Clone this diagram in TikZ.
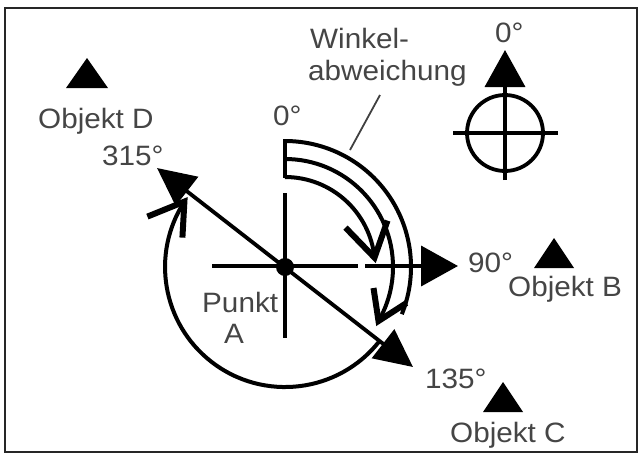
\documentclass[tikz,border=0pt]{standalone}
\usepackage{fontspec}
\setmainfont{Liberation Sans}[FakeStretch=1.06]
\usetikzlibrary{arrows.meta}
\definecolor{txt}{gray}{0.27}
\begin{document}
\begin{tikzpicture}[x=1pt,y=-1pt,
  lbl/.style={font=\fontsize{28}{30}\selectfont, text=txt, inner sep=0pt, anchor=base west},
  ln/.style={line width=3.8pt},
  arcl/.style={line width=4pt},
  chev/.style={line width=6pt, line join=miter},
  bigtip/.style={-{Triangle[length=37pt,width=40pt]}},
  obj/.style={fill=black}]
\useasboundingbox (0,0) rectangle (642,456);
\draw[line width=2.8pt, black!85] (5,8) rectangle (637,452);

% named points
\coordinate (A) at (285,267);
\coordinate (T315) at (157,168);
\coordinate (T135) at (413,367);
\coordinate (H0) at (212,266);
\coordinate (H1) at (358,266);
\coordinate (H2) at (365,266);
\coordinate (T90) at (458,266);
\coordinate (V0) at (285,193);
\coordinate (V1) at (285,338);
\coordinate (B0) at (285,139);
\coordinate (B1) at (285,178);
\coordinate (tip1) at (374.5,257.6);
\coordinate (tip2) at (378.5,321);
\coordinate (tip3) at (184.4,201.6);
\coordinate (L0) at (380,95);
\coordinate (L1) at (350,150);

% cross
\draw[ln] (H0) -- (H1);
\draw[ln, bigtip] (H2) -- (T90);
\draw[ln] (V0) -- (V1);

% diagonal 315-135
\draw[ln, {Triangle[length=38pt,width=36pt]}-{Triangle[length=38pt,width=36pt]}] (T315) -- (T135);

% big circular arrow
\draw[arcl] (379.6,340.9) arc[start angle=-38, end angle=-213, radius=120pt];
\draw[chev] (tip3) ++(-37,15) -- (tip3) -- ++(-2,36);

% angle deviation arcs
\draw[arcl] (B0) -- (B1);
\draw[arcl] (285,177) arc[start angle=90, end angle=6, radius=90pt];
\draw[arcl] (285,159) arc[start angle=90, end angle=-30, radius=108pt];
\draw[arcl] (285,141) arc[start angle=90, end angle=-22, radius=126pt];
\draw[chev] (tip1) ++(-29,-30) -- (tip1) -- ++(13,-37);
\draw[chev] (tip2) ++(-5,-33) -- (tip2) -- ++(28,-18);

% center dot
\fill (A) circle[radius=9pt];

% leader
\draw[line width=1.8pt, black!75] (L0) -- (L1);

% compass
\coordinate (C) at (505,133);
\draw[ln] (C) circle[radius=38pt];
\draw[ln] (453,133) -- (558,133);
\draw[ln, bigtip] (505,180) -- (505,50);

% objects
\fill[obj] (87,58) -- (66,88) -- (108,88) -- cycle;
\fill[obj] (554,238) -- (534,268) -- (574,268) -- cycle;
\fill[obj] (503,382) -- (483,412) -- (523,412) -- cycle;

% labels
\node[lbl] (wink) at (310,48) {Winkel-};
\node[lbl] (abw) at (308,80) {abweichung};
\node[lbl] (z0) at (273,125) {0°};
\node[lbl] (z0c) at (495,42) {0°};
\node[lbl] (objD) at (38,128) {Objekt D};
\node[lbl] (d315) at (102,165) {315°};
\node[lbl] (d90) at (468,272) {90°};
\node[lbl] (objB) at (508,296) {Objekt B};
\node[lbl] (d135) at (425,388) {135°};
\node[lbl] (objC) at (450,442) {Objekt C};
\node[lbl] (pkt) at (202,312) {Punkt};
\node[lbl, anchor=base] (pA) at (234,343) {A};
\end{tikzpicture}
\end{document}
